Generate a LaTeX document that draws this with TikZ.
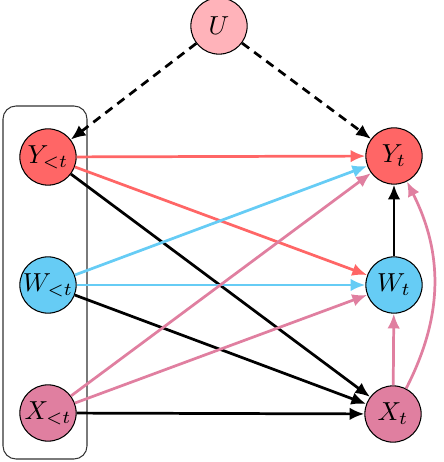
\documentclass[tikz,border=0pt]{standalone}
\usepackage{tikz}
\usetikzlibrary{arrows.meta, positioning}

\definecolor{ycol}{HTML}{FF6666}
\definecolor{wcol}{HTML}{66CCF5}
\definecolor{xcol}{HTML}{E07FA0}
\definecolor{ucol}{HTML}{FFB3BA}

\begin{document}
\begin{tikzpicture}[
    x=0.0135cm, y=-0.0135cm,
    var/.style={circle, draw=black, minimum size=0.76cm, inner sep=0pt},
    arrow/.style={-{Latex[length=2mm, width=1.7mm]}, line width=1.05pt},
    confound/.style={arrow, dashed, dash pattern=on 3.4pt off 2.4pt}
]
\useasboundingbox (0,0) rectangle (444,462);
\draw[rounded corners=5pt, black!80] (3,106) rectangle (87,459);
\node[var, fill=ucol] (u) at (219,26) {$U$};
\node[var, fill=ycol] (ypast) at (48,157) {$Y_{<t}$};
\node[var, fill=wcol] (wpast) at (48,285) {$W_{<t}$};
\node[var, fill=xcol] (xpast) at (48,413) {$X_{<t}$};
\node[var, fill=ycol] (yt) at (394,156) {$Y_t$};
\node[var, fill=wcol] (wt) at (394,285) {$W_t$};
\node[var, fill=xcol] (xt) at (393,414) {$X_t$};
\draw[confound] (u) -- (ypast);
\draw[confound] (u) -- (yt);
\draw[arrow, ycol] (ypast) -- (yt);
\draw[arrow, ycol] (ypast) -- (wt);
\draw[arrow] (ypast) -- (xt);
\draw[arrow, wcol] (wpast) -- (yt);
\draw[arrow, wcol] (wpast) -- (wt);
\draw[arrow] (wpast) -- (xt);
\draw[arrow, xcol] (xpast) -- (yt);
\draw[arrow, xcol] (xpast) -- (wt);
\draw[arrow] (xpast) -- (xt);
\draw[arrow] (wt) -- (yt);
\draw[arrow, xcol] (xt) -- (wt);
\draw[arrow, xcol] (xt) to[bend right=27] (yt);
\end{tikzpicture}
\end{document}
